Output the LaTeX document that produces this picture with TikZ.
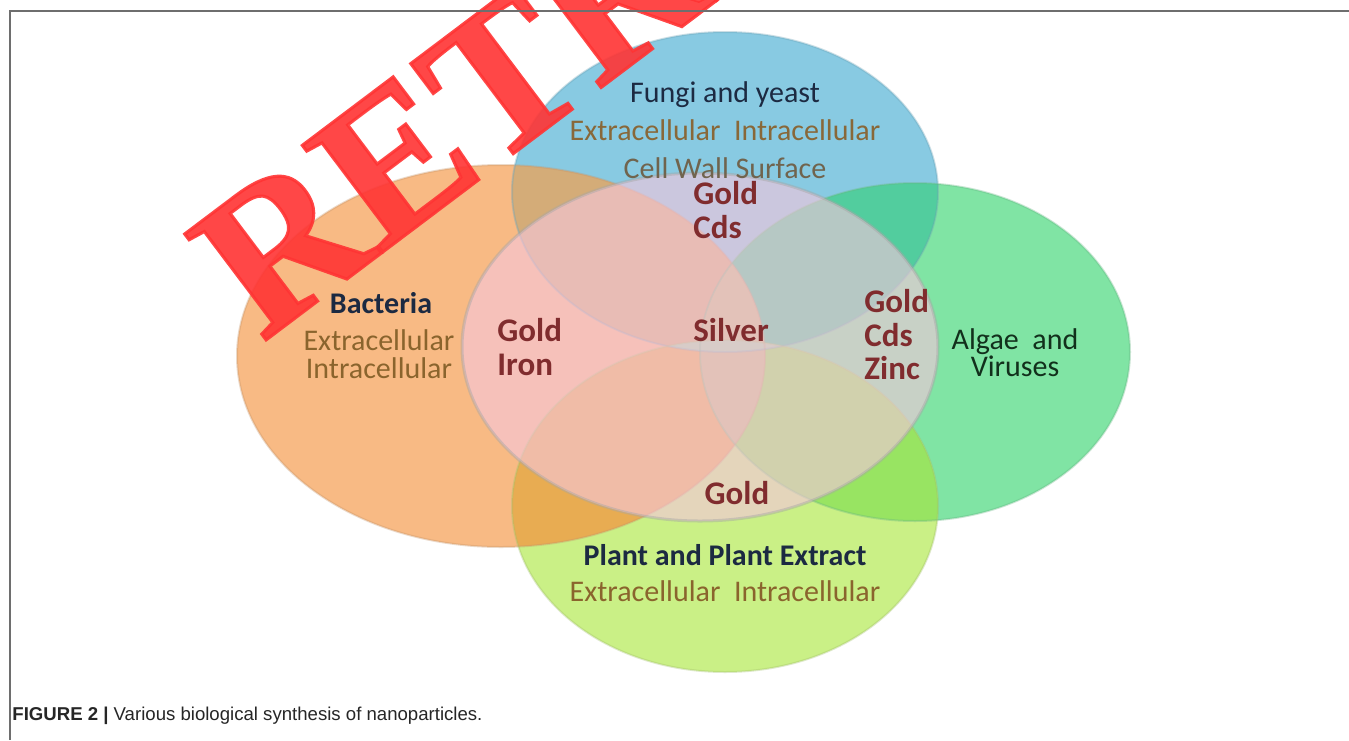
\documentclass[tikz,border=0pt]{standalone}
\usepackage{fontspec}
\setmainfont{Carlito}
\newfontfamily\capfont{Liberation Sans}
\newfontfamily\wmfont[FakeBold=1.5]{Liberation Serif}
\definecolor{cB}{RGB}{248,186,132}
\definecolor{cF}{RGB}{136,202,226}
\definecolor{cA}{RGB}{128,228,164}
\definecolor{cP}{RGB}{202,240,134}
\definecolor{cBF}{RGB}{212,172,120}
\definecolor{cBP}{RGB}{232,172,82}
\definecolor{cFA}{RGB}{82,205,158}
\definecolor{cAP}{RGB}{152,228,98}
\definecolor{cBA}{RGB}{200,190,130}
\definecolor{cFP}{RGB}{170,215,170}
\definecolor{cC}{RGB}{245,198,220}
\definecolor{titleC}{RGB}{28,42,66}
\definecolor{algC}{RGB}{18,48,28}
\definecolor{brC}{RGB}{138,100,45}
\definecolor{cwC}{RGB}{112,100,78}
\definecolor{metC}{RGB}{128,44,46}
\definecolor{wmC}{RGB}{255,52,52}
\definecolor{frameC}{RGB}{110,110,110}
% ellipse geometry (pixel units)
\def\Brx{264}\def\Bry{191}
\def\Frx{213}\def\Fry{160}
\def\Arx{215}\def\Ary{169}
\def\Prx{213}\def\Pry{166}
\def\Crx{238}\def\Cry{174}
\begin{document}
\begin{tikzpicture}[x=0.5pt,y=-0.5pt,
  lbl/.style={inner sep=0pt, font=\fontsize{15}{15}\selectfont},
  titlelbl/.style={lbl, text=titleC},
  boldtitle/.style={lbl, text=titleC, font=\bfseries\fontsize{15}{15}\selectfont},
  brownlbl/.style={lbl, text=brC, align=center, font=\fontsize{15}{14}\selectfont},
  metal/.style={inner sep=0pt, text=metC, align=left, font=\bfseries\fontsize{16.5}{16.75}\selectfont},
  rim/.style={line width=1pt, draw opacity=0.35}]
\useasboundingbox (0,0) rectangle (1349,740);
\fill[white] (0,0) rectangle (1349,740);

\coordinate (B) at (501,356);
\coordinate (F) at (725,192);
\coordinate (A) at (915,352);
\coordinate (P) at (725,506);
\coordinate (C) at (700,347);

% base fills
\fill[cB] (B) ellipse [x radius=\Brx, y radius=\Bry];
\fill[cF] (F) ellipse [x radius=\Frx, y radius=\Fry];
\fill[cA] (A) ellipse [x radius=\Arx, y radius=\Ary];
\fill[cP] (P) ellipse [x radius=\Prx, y radius=\Pry];

% pairwise overlaps
\begin{scope}
  \clip (B) ellipse [x radius=\Brx, y radius=\Bry];
  \fill[cBF] (F) ellipse [x radius=\Frx, y radius=\Fry];
\end{scope}
\begin{scope}
  \clip (B) ellipse [x radius=\Brx, y radius=\Bry];
  \fill[cBP] (P) ellipse [x radius=\Prx, y radius=\Pry];
\end{scope}
\begin{scope}
  \clip (F) ellipse [x radius=\Frx, y radius=\Fry];
  \fill[cFA] (A) ellipse [x radius=\Arx, y radius=\Ary];
\end{scope}
\begin{scope}
  \clip (A) ellipse [x radius=\Arx, y radius=\Ary];
  \fill[cAP] (P) ellipse [x radius=\Prx, y radius=\Pry];
\end{scope}
\begin{scope}
  \clip (B) ellipse [x radius=\Brx, y radius=\Bry];
  \fill[cBA] (A) ellipse [x radius=\Arx, y radius=\Ary];
\end{scope}
\begin{scope}
  \clip (F) ellipse [x radius=\Frx, y radius=\Fry];
  \fill[cFP] (P) ellipse [x radius=\Prx, y radius=\Pry];
\end{scope}

% rims
\draw[rim, draw=cB!80!black] (B) ellipse [x radius=\Brx, y radius=\Bry];
\draw[rim, draw=cF!80!black] (F) ellipse [x radius=\Frx, y radius=\Fry];
\draw[rim, draw=cA!80!black] (A) ellipse [x radius=\Arx, y radius=\Ary];
\draw[rim, draw=cP!80!black] (P) ellipse [x radius=\Prx, y radius=\Pry];

% central translucent ellipse
\fill[cC, fill opacity=0.62] (C) ellipse [x radius=\Crx, y radius=\Cry];
\draw[line width=1.5pt, draw=black!35, draw opacity=0.45] (C) ellipse [x radius=\Crx, y radius=\Cry];

% labels
\node[titlelbl] (fungi) at (725,95) {Fungi and yeast};
\node[brownlbl, text=brC!85!gray] (fungiext) at (725,130) {Extracellular\ \ Intracellular};
\node[lbl, text=cwC] (cellwall) at (725,168) {Cell Wall Surface};
\node[metal, anchor=west] (goldcds) at (693,210) {Gold\\Cds};

\node[boldtitle] (bact) at (381,303) {Bacteria};
\node[brownlbl] (bactext) at (379,354) {Extracellular\\Intracellular};
\node[metal, anchor=west] (goldiron) at (497,347) {Gold\\Iron};
\node[metal] (silver) at (731,330) {Silver};
\node[metal, anchor=west] (goldcdszinc) at (864,335) {Gold\\Cds\\Zinc};

\node[lbl, text=algC, align=center, font=\fontsize{15}{13.5}\selectfont] (algae) at (1015,353) {Algae\ \ and\\Viruses};

\node[metal] (goldbot) at (737,493) {Gold};
\node[boldtitle] (plant) at (725,555) {Plant and Plant Extract};
\node[brownlbl] (plantext) at (725,591) {Extracellular\ \ Intracellular};

% watermark
\begin{scope}
  \clip (0,0) rectangle (1349,740);
  \node[inner sep=0pt, anchor=base west, rotate=37, text=wmC, text opacity=0.9,
        font=\wmfont\bfseries\fontsize{102}{102}\selectfont] (wm) at (262,343) {RETRACTED};
\end{scope}

% frame and caption
\draw[frameC, line width=1pt] (10,740) -- (10,11) -- (1349,11);
\node[inner sep=0pt, anchor=base west, text=black!85,
      font=\capfont\fontsize{9.3}{10}\selectfont] (caption) at (12,720)
  {\textbf{FIGURE 2 |} Various biological synthesis of nanoparticles.};
\end{tikzpicture}
\end{document}
